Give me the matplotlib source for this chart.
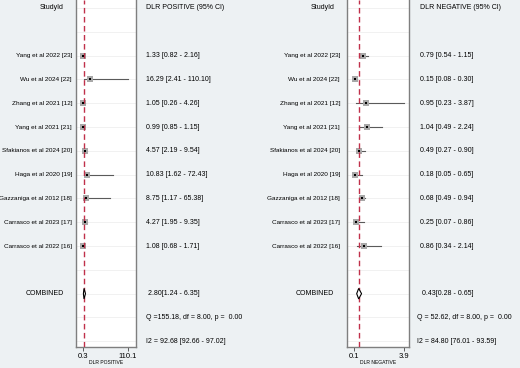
import numpy as np
import matplotlib
matplotlib.use("Agg")
import matplotlib.pyplot as plt
from matplotlib.transforms import blended_transform_factory
from matplotlib.patches import Polygon

plt.rcParams['font.family'] = ['Liberation Sans', 'DejaVu Sans']

studies = ["Yang et al 2022 [23]", "Wu et al 2024 [22]", "Zhang et al 2021 [12]",
           "Yang et al 2021 [21]", "Sfakianos et al 2024 [20]", "Haga et al 2020 [19]",
           "Gazzaniga et al 2012 [18]", "Carrasco et al 2023 [17]", "Carrasco et al 2022 [16]"]

pos_est = [1.33, 16.29, 1.05, 0.99, 4.57, 10.83, 8.75, 4.27, 1.08]
pos_lo = [0.82, 2.41, 0.26, 0.85, 2.19, 1.62, 1.17, 1.95, 0.68]
pos_hi = [2.16, 110.10, 4.26, 1.15, 9.54, 72.43, 65.38, 9.35, 1.71]
pos_comb = (2.80, 1.24, 6.35)
pos_q = "Q =155.18, df = 8.00, p =  0.00"
pos_i2 = "I2 = 92.68 [92.66 - 97.02]"

neg_est = [0.79, 0.15, 0.95, 1.04, 0.49, 0.18, 0.68, 0.25, 0.86]
neg_lo = [0.54, 0.08, 0.23, 0.49, 0.27, 0.05, 0.49, 0.07, 0.34]
neg_hi = [1.15, 0.30, 3.87, 2.24, 0.90, 0.65, 0.94, 0.86, 2.14]
neg_comb = (0.43, 0.28, 0.65)
neg_q = "Q = 52.62, df = 8.00, p =  0.00"
neg_i2 = "I2 = 84.80 [76.01 - 93.59]"

W, H = 520, 368
bg = "#edf1f3"
fig = plt.figure(figsize=(W / 100, H / 100), dpi=100, facecolor=bg)

fs = 5.0


def panel(x0, x1, xlim, ticks, xlabel, header, est, lo, hi, comb, qtxt, i2txt,
          name_x, head_x, comb_x, val_x, cval_x, q_x):
    ax = fig.add_axes([x0 / W, (H - 347) / H, (x1 - x0) / W, 347 / H])
    ax.set_facecolor("white")
    ax.set_xlim(*xlim)
    ax.set_ylim(14.24, -0.336)
    for r in range(15):
        ax.axhline(r, color="#ebebeb", lw=0.5, zorder=0)
    for s in ["left", "right", "bottom"]:
        ax.spines[s].set_color("#7f7f7f")
        ax.spines[s].set_linewidth(1.0)
    ax.spines["top"].set_visible(False)
    ax.set_yticks([])
    ax.set_xticks(ticks)
    ax.set_xticklabels([str(t) for t in ticks], fontsize=5.5)
    ax.tick_params(axis="x", length=3, width=0.6, color="#444444", pad=1)
    ax.set_xlabel(xlabel, fontsize=3.6, labelpad=0.5)

    rows = np.arange(2, 2 + len(est))
    for r, e, l, h in zip(rows, est, lo, hi):
        ax.plot([l, h], [r, r], color="#5a5a5a", lw=0.8, zorder=2)
    ax.scatter(est, rows, marker="s", s=14, color="#a8a8a8", zorder=3, linewidths=0)
    ax.scatter(est, rows, marker="s", s=2.5, color="black", zorder=4, linewidths=0)

    ce, cl, ch = comb
    dia = Polygon([(cl, 12), (ce, 11.78), (ch, 12), (ce, 12.22)], closed=True,
                  facecolor="white", edgecolor="black", lw=0.8, zorder=4)
    ax.add_patch(dia)
    ax.axvline(ce, color="#c0304a", lw=1.0, ls=(0, (4, 2.5)), zorder=3)

    tr = blended_transform_factory(fig.transFigure, ax.transData)
    fig.text(head_x / W, 0, "StudyId", transform=tr, fontsize=fs, ha="center", va="center")
    fig.text(val_x / W, 0, header, transform=tr, fontsize=fs, ha="left", va="center")
    for r, n, e, l, h in zip(rows, studies, est, lo, hi):
        fig.text(name_x / W, r, n, transform=tr, fontsize=fs * 0.92, ha="right", va="center")
        fig.text(val_x / W, r, f"{e:.2f} [{l:.2f} - {h:.2f}]", transform=tr,
                 fontsize=fs, ha="left", va="center")
    fig.text(comb_x / W, 12, "COMBINED", transform=tr, fontsize=fs, ha="center", va="center")
    fig.text(cval_x / W, 12, f"{ce:.2f}[{cl:.2f} - {ch:.2f}]", transform=tr,
             fontsize=fs, ha="left", va="center")
    fig.text(q_x / W, 13, qtxt, transform=tr, fontsize=fs, ha="left", va="center")
    fig.text(q_x / W, 14, i2txt, transform=tr, fontsize=fs, ha="left", va="center")
    return ax


panel(76, 136, (-16.8, 129.6), [0.3, 110.1], "DLR POSITIVE", "DLR POSITIVE (95% CI)",
      pos_est, pos_lo, pos_hi, pos_comb, pos_q, pos_i2,
      name_x=72, head_x=52, comb_x=45, val_x=146.5, cval_x=148.5, q_x=146.5)
panel(346.7, 409.3, (-0.48, 4.28), [0.1, 3.9], "DLR NEGATIVE", "DLR NEGATIVE (95% CI)",
      neg_est, neg_lo, neg_hi, neg_comb, neg_q, neg_i2,
      name_x=340, head_x=323, comb_x=315, val_x=420.5, cval_x=421.5, q_x=417)

fig.savefig("out.png", dpi=100, facecolor=bg)
